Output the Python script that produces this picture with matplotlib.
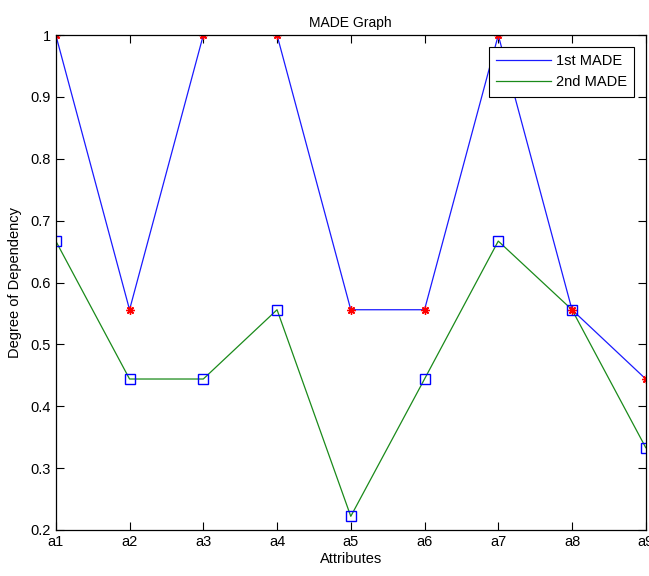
import matplotlib
matplotlib.use("Agg")
import matplotlib.pyplot as plt

# attribute labels and dependency degrees
attributes = ["a1", "a2", "a3", "a4", "a5", "a6", "a7", "a8", "a9"]
first_made = [1.0, 0.556, 1.0, 1.0, 0.556, 0.556, 1.0, 0.556, 0.444]
second_made = [0.667, 0.444, 0.444, 0.556, 0.222, 0.444, 0.667, 0.556, 0.333]
y_ticks = [0.2, 0.3, 0.4, 0.5, 0.6, 0.7, 0.8, 0.9, 1.0]
y_tick_labels = ["0.2", "0.3", "0.4", "0.5", "0.6", "0.7", "0.8", "0.9", "1"]

plt.rcParams["font.family"] = ["Liberation Sans", "DejaVu Sans"]

fig = plt.figure(figsize=(6.49, 5.76), dpi=100)
ax = fig.add_axes([0.086, 0.080, 0.909, 0.859])

x = list(range(1, len(attributes) + 1))
ax.plot(x, first_made, color="#1a1aff", lw=0.9, label="1st MADE")
ax.plot(x, second_made, color="#1a8a1a", lw=0.9, label="2nd MADE")
# matlab style '*' markers (plus + cross) and open squares
ax.plot(x, first_made, ls="none", marker=(8, 2, 0), color="red", ms=6, mew=1.0)
ax.plot(x, second_made, ls="none", marker="s", mfc="none", mec="#0000ff",
        ms=7, mew=1.0)

ax.set_xlim(1, 9)
ax.set_ylim(0.2, 1.0)
ax.set_xticks(x)
ax.set_xticklabels(attributes)
ax.set_yticks(y_ticks)
ax.set_yticklabels(y_tick_labels)
ax.tick_params(direction="in", top=True, right=True, labelsize=10.5, length=6)
for s in ax.spines.values():
    s.set_linewidth(0.9)

ax.set_title("MADE Graph", fontsize=10, pad=6)
ax.set_xlabel("Attributes", fontsize=10.5, labelpad=2)
ax.set_ylabel("Degree of Dependency", fontsize=10.5, labelpad=6)

leg = ax.legend(loc="upper right", fontsize=10.5, fancybox=False,
                edgecolor="black", framealpha=1, borderaxespad=0.8,
                handlelength=3.8, handletextpad=0.3, borderpad=0.5)
leg.get_frame().set_linewidth(0.8)

fig.savefig("out.png", dpi=100)
